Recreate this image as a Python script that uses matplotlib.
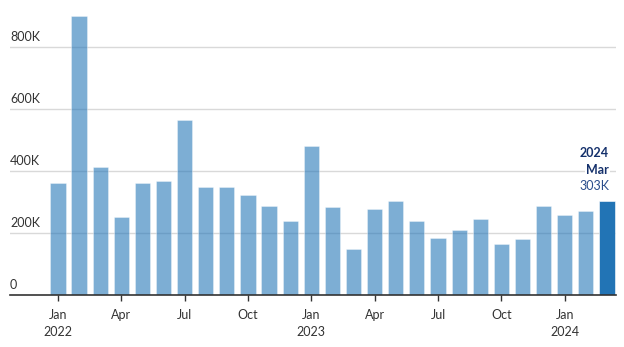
import matplotlib.pyplot as plt
import matplotlib.transforms as mtransforms

plt.rcParams['font.family'] = ['Lato', 'DejaVu Sans']

# Monthly values, Jan 2022 - Mar 2024
months = ['Jan 2022', 'Feb 2022', 'Mar 2022', 'Apr 2022', 'May 2022', 'Jun 2022',
          'Jul 2022', 'Aug 2022', 'Sep 2022', 'Oct 2022', 'Nov 2022', 'Dec 2022',
          'Jan 2023', 'Feb 2023', 'Mar 2023', 'Apr 2023', 'May 2023', 'Jun 2023',
          'Jul 2023', 'Aug 2023', 'Sep 2023', 'Oct 2023', 'Nov 2023', 'Dec 2023',
          'Jan 2024', 'Feb 2024', 'Mar 2024']
values = [362, 900, 412, 253, 362, 369, 565, 349, 349, 322, 287, 238,
          481, 285, 147, 278, 302, 238, 185, 210, 244, 166, 182, 287,
          257, 270, 303]
values = [v * 1000 for v in values]

tick_idx = [0, 3, 6, 9, 12, 15, 18, 21, 24]
tick_labels = ['Jan\n2022', 'Apr', 'Jul', 'Oct', 'Jan\n2023', 'Apr', 'Jul', 'Oct', 'Jan\n2024']
y_ticks = [0, 200000, 400000, 600000, 800000]
y_labels = ['0', '200K', '400K', '600K', '800K']

fig = plt.figure(figsize=(6.24, 3.47), dpi=100)
ax = fig.add_axes([10 / 624, 1 - 295 / 347, 606 / 624, 285 / 347])

x = list(range(len(values)))
colors = ['#2678b8'] * (len(values) - 1) + ['#2274b5']
alphas = [0.6] * (len(values) - 1) + [1.0]
for xi, v, c, a in zip(x, values, colors, alphas):
    ax.bar(xi, v, width=0.72, color=c, alpha=a, edgecolor='white', linewidth=0.4, zorder=2)

ax.set_xlim(-2.27, 26.43)
ax.set_ylim(0, 920000)

# gridlines + labels sitting just above them
for v, lab in zip(y_ticks[1:], y_labels[1:]):
    ax.axhline(v, color='#d9d9d9', linewidth=1, zorder=1)
trans = mtransforms.blended_transform_factory(ax.transAxes, ax.transData)
offset = mtransforms.ScaledTranslation(0, 3 / 72, fig.dpi_scale_trans)
for v, lab in zip(y_ticks, y_labels):
    ax.text(0, v, lab, transform=trans + offset, ha='left', va='bottom',
            fontsize=9, color='#333333')

ax.set_yticks([])
ax.set_xticks(tick_idx)
ax.set_xticklabels(tick_labels, fontsize=9, color='#333333', linespacing=1.5)
ax.tick_params(axis='x', length=4, width=1, color='#333333', pad=6)

for s in ['top', 'right', 'left']:
    ax.spines[s].set_visible(False)
ax.spines['bottom'].set_color('#333333')
ax.spines['bottom'].set_linewidth(1.2)

# label for the latest month
last = len(values) - 1
bbox = dict(facecolor='white', edgecolor='none', pad=0.5)
ax.text(last + 0.1, 460000, '2024', ha='right', va='center', fontsize=9,
        fontweight='bold', color='#14306b', bbox=bbox, zorder=3)
ax.text(last + 0.1, 405000, 'Mar', ha='right', va='center', fontsize=9,
        fontweight='bold', color='#14306b', bbox=bbox, zorder=3)
ax.text(last + 0.1, 352000, '303K', ha='right', va='center', fontsize=9,
        color='#2a4d8c', bbox=bbox, zorder=3)

fig.savefig('out.png', dpi=100)
